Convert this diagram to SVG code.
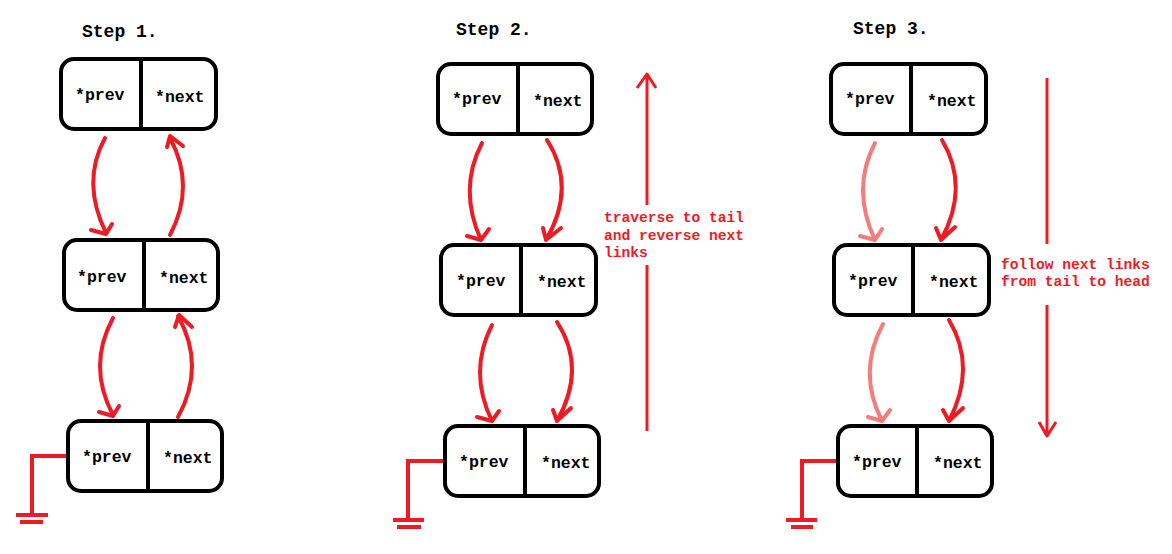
<svg xmlns="http://www.w3.org/2000/svg" width="1172" height="554" viewBox="0 0 1172 554">
<style>
.box{fill:#fff;stroke:#000;stroke-width:4}
.div{stroke:#000;stroke-width:4}
.t{font-family:"Liberation Mono","Courier New",monospace;font-weight:bold;font-size:16.5px;fill:#000}
.step{font-family:"Liberation Mono","Courier New",monospace;font-weight:bold;font-size:18px;fill:#000}
.lbl{font-family:"Liberation Mono","Courier New",monospace;font-weight:bold;font-size:14.6px;fill:#ed1c24}
.a{fill:none;stroke:#ed1c24;stroke-width:4;stroke-linecap:round;stroke-linejoin:round}
.p{fill:none;stroke:#f47c7c;stroke-width:4;stroke-linecap:round;stroke-linejoin:round}
.big{fill:none;stroke:#ed1c24;stroke-width:3;stroke-linejoin:round}
.gnd{fill:none;stroke:#ed1c24;stroke-width:4}
</style>
<rect width="1172" height="554" fill="#fff"/>
<text class="step" x="82" y="37">Step 1.</text>
<text class="step" x="456" y="35">Step 2.</text>
<text class="step" x="853" y="34">Step 3.</text>

<g id="s1n1"><rect class="box" x="61" y="59" width="155" height="70" rx="13"/><line class="div" x1="141" y1="59" x2="141" y2="129"/><text class="t" x="75" y="100">*prev</text><text class="t" x="155" y="102">*next</text></g>
<g id="s1n2"><rect class="box" x="64" y="240" width="154" height="70" rx="13"/><line class="div" x1="144" y1="240" x2="144" y2="310"/><text class="t" x="77" y="282">*prev</text><text class="t" x="159" y="283">*next</text></g>
<g id="s1n3"><rect class="box" x="68" y="421" width="154" height="70" rx="13"/><line class="div" x1="148" y1="421" x2="148" y2="491"/><text class="t" x="82" y="462">*prev</text><text class="t" x="163" y="463">*next</text></g>

<g id="s2n1"><rect class="box" x="438" y="64" width="154" height="70" rx="13"/><line class="div" x1="518" y1="64" x2="518" y2="134"/><text class="t" x="452" y="104">*prev</text><text class="t" x="533" y="106">*next</text></g>
<g id="s2n2"><rect class="box" x="441" y="245" width="155" height="70" rx="13"/><line class="div" x1="521" y1="245" x2="521" y2="315"/><text class="t" x="456" y="286">*prev</text><text class="t" x="537" y="287">*next</text></g>
<g id="s2n3"><rect class="box" x="445" y="426" width="154" height="70" rx="13"/><line class="div" x1="525" y1="426" x2="525" y2="496"/><text class="t" x="459" y="467">*prev</text><text class="t" x="541" y="468">*next</text></g>

<g id="s3n1"><rect class="box" x="831" y="64" width="155" height="70" rx="13"/><line class="div" x1="911" y1="64" x2="911" y2="134"/><text class="t" x="845" y="104">*prev</text><text class="t" x="927" y="106">*next</text></g>
<g id="s3n2"><rect class="box" x="834" y="245" width="155" height="70" rx="13"/><line class="div" x1="913" y1="245" x2="913" y2="315"/><text class="t" x="848" y="286">*prev</text><text class="t" x="929" y="287">*next</text></g>
<g id="s3n3"><rect class="box" x="838" y="426" width="154" height="70" rx="13"/><line class="div" x1="917" y1="426" x2="917" y2="496"/><text class="t" x="852" y="467">*prev</text><text class="t" x="933" y="468">*next</text></g>

<g id="connectors">
<path class="a" d="M105,138 Q81,182 106,233 M91,230 L106,234 L112,224"/>
<path class="a" d="M170,235 Q196,186 170,138 M167,147 L170,136 L183,146"/>
<path class="a" d="M113,318 Q87,366 113,415 M99,412 L113,416 L119,406"/>
<path class="a" d="M178,417 Q206,366 178,316 M175,327 L179,315 L192,327"/>

<path class="a" d="M482,143 Q458,189 481,240 M467,236 L481,240 L489,229"/>
<path class="a" d="M547,140 Q577,187 546,240 M543,228 L546,240 L561,228"/>
<path class="a" d="M492,325 Q468,372 492,421 M477,417 L492,421 L499,411"/>
<path class="a" d="M557,322 Q587,368 557,421 M553,410 L557,421 L571,408"/>

<path class="p" d="M875,143 Q851,189 875,240 M860,236 L875,240 L882,229"/>
<path class="a" d="M942,140 Q970,187 941,240 M936,228 L941,240 L955,227"/>
<path class="p" d="M883,324 Q857,372 882,421 M868,417 L882,421 L890,410"/>
<path class="a" d="M949,320 Q977,367 949,421 M943,410 L949,421 L963,408"/>

<path class="big" d="M647,75 V205 M647,265 V431 M637,88 L647,74 L656,88"/>
<path class="big" d="M1047,78 V244 M1047,305 V436 M1039,422 L1047,436 L1056,422"/>

<path class="gnd" d="M66,456 H32 V515 M16,515 H48 M20,522 H43"/>
<path class="gnd" d="M443,461 H408 V520 M393,520 H424 M397,527 H421"/>
<path class="gnd" d="M836,461 H802 V520 M786,520 H817 M791,527 H813"/>
</g>

<text class="lbl" x="604" y="222">traverse to tail</text>
<text class="lbl" x="604" y="240">and reverse next</text>
<text class="lbl" x="604" y="257">links</text>
<text class="lbl" x="1001" y="269">follow next links</text>
<text class="lbl" x="1001" y="286">from tail to head</text>
</svg>
